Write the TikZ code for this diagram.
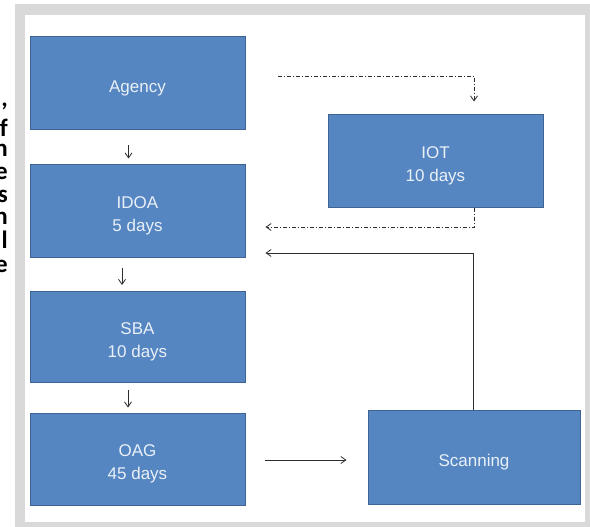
\documentclass[tikz,border=0pt]{standalone}
\usepackage{fontspec}
\setmainfont{Liberation Sans}
\newfontfamily\marginfont{Carlito}
\usetikzlibrary{arrows.meta,positioning}
\definecolor{boxblue}{RGB}{85,134,193}
\definecolor{boxedge}{RGB}{62,100,150}
\definecolor{boxtext}{RGB}{234,240,248}
\definecolor{framegrey}{RGB}{217,217,217}
\definecolor{linegrey}{RGB}{45,45,45}
\newcommand{\lift}{\rule{0pt}{22pt}}

\begin{document}
\begin{tikzpicture}[x=1pt,y=-1pt,
    stage/.style={draw=boxedge, fill=boxblue, line width=1pt, text=boxtext,
      minimum width=215pt, minimum height=92pt, align=center,
      font=\fontsize{17}{23.5}\selectfont},
    arr/.style={-{Straight Barb[length=5pt,width=7pt]}, linegrey, line width=0.8pt},
    dd/.style={arr, dash pattern=on 4pt off 2pt on 1pt off 2pt}]
  \useasboundingbox (0,0) rectangle (590,527);
  % frame
  \fill[framegrey] (15,4) rectangle (590,527);
  \fill[white] (25,15) rectangle (585,522);
  % cut-off text on the left
  \foreach \ch/\yy [count=\i] in {{,}/107, f/137, n/157, e/179, s/202, n/225, l/248, e/272}
    \node[anchor=base east, inner sep=0pt, font=\marginfont\bfseries\fontsize{25}{25}\selectfont]
      (margin\i) at (8,\yy) {\ch};
  % stages
  \node[stage, minimum height=93pt] (agency) at (137.5,83.5) {\lift Agency};
  \node[stage] (idoa) at (137.5,211) {\lift IDOA\\5 days};
  \node[stage, minimum height=91pt] (sba) at (137.5,337) {\lift SBA\\10 days};
  \node[stage] (oag) at (137.5,459) {\lift OAG\\45 days};
  \node[stage] (iot) at (435.5,161) {\lift IOT\\10 days};
  \node[stage, minimum width=212pt, minimum height=94pt] (scan) at (474,457.5) {\lift Scanning};
  % flow
  \draw[arr, shorten <=15pt, shorten >=6pt] ([xshift=-9pt]agency.south) -- ([xshift=-9pt]idoa.north);
  \draw[arr, shorten <=10pt, shorten >=6pt] ([xshift=-15.5pt]idoa.south) -- ([xshift=-15.5pt]sba.north);
  \draw[arr, shorten <=7pt, shorten >=5pt] ([xshift=-9.5pt]sba.south) -- ([xshift=-9.5pt]oag.north);
  \draw[arr, shorten <=19pt, shorten >=21pt] ([yshift=-1pt]oag.east) -- ([yshift=-1pt]oag.east -| scan.west);
  \coordinate (ddstart) at (278,76);
  \draw[dd, shorten >=13pt] (ddstart) -| ([xshift=38.5pt]iot.north);
  \draw[dd, shorten >=20pt] ([xshift=38.5pt]iot.south) |- ([yshift=-16pt]idoa.east);
  \draw[arr, shorten >=20pt] ([xshift=-1pt]scan.north) |- ([yshift=-42pt]idoa.east);
\end{tikzpicture}
\end{document}
